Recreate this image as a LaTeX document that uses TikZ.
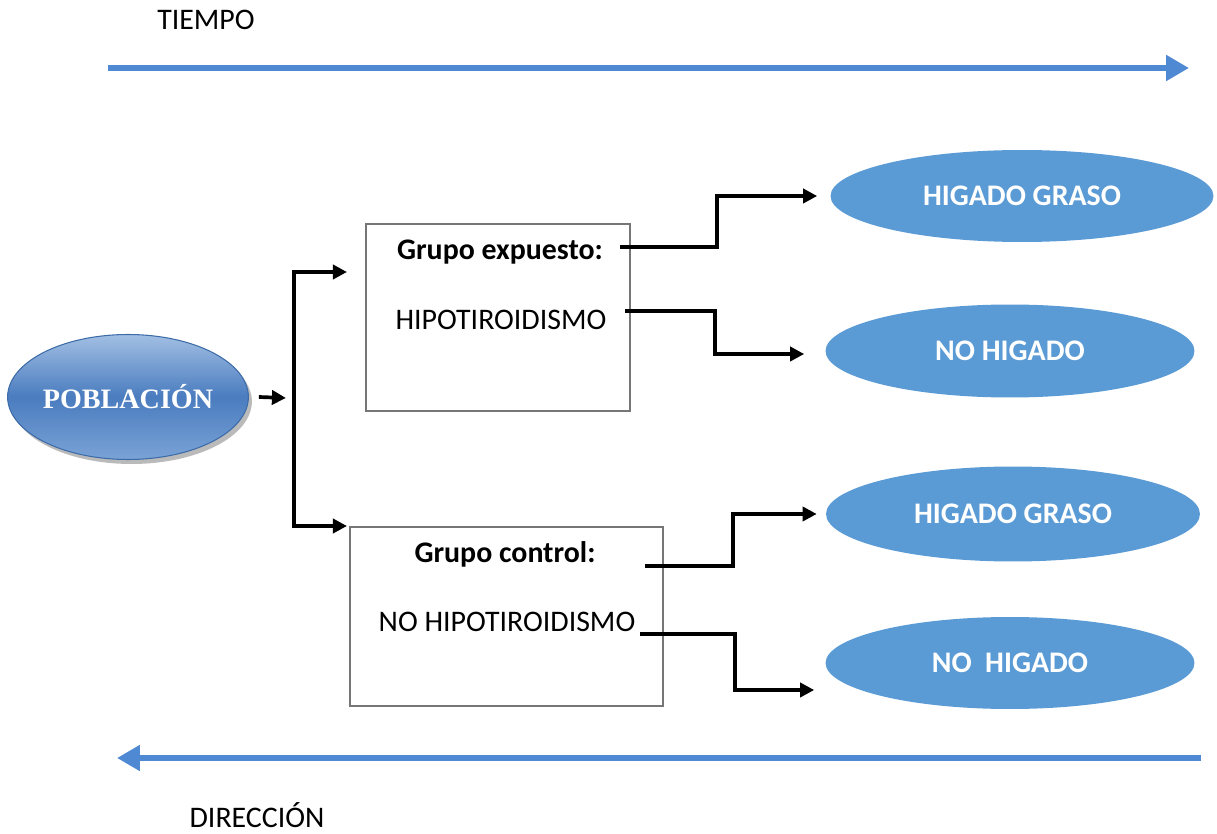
\documentclass[tikz,border=0pt]{standalone}
\usepackage{fontspec}
\setmainfont{Carlito}
\newfontfamily\seriffont{Liberation Serif}
\usetikzlibrary{arrows.meta,shapes.geometric,shadows}
\definecolor{ejeazul}{HTML}{5089D3}
\definecolor{elipseazul}{HTML}{5B9BD5}
\definecolor{cajagris}{HTML}{767676}
\definecolor{pobtop}{HTML}{A2BFE3}
\definecolor{pobmid}{HTML}{4A7CBF}
\definecolor{pobbot}{HTML}{7AA3D6}
\definecolor{pobborde}{HTML}{3C6BA8}

\tikzset{
  eje/.style={draw=ejeazul,line width=3.3pt,-{Triangle[length=13pt,width=14pt]}},
  flecha/.style={line width=2.1pt,-{Triangle[length=8pt,width=8pt]}},
  caja/.style={draw=cajagris,line width=1.1pt,inner sep=0pt},
  resultado/.style={ellipse,fill=elipseazul,text=white,inner sep=0pt,
    font=\bfseries\fontsize{17}{20}\selectfont},
  texto/.style={font=\fontsize{17}{20}\selectfont},
  titulo/.style={font=\bfseries\fontsize{17}{20}\selectfont}
}

\begin{document}
\begin{tikzpicture}[line cap=butt,line join=miter,x=0.02cm,y=-0.02cm]
\useasboundingbox (0,0) rectangle (1217,834);

% time axis and direction axis
\node[texto] (tiempo) at (206,20) {TIEMPO};
\coordinate (t0) at (108,68);
\coordinate (t1) at (1189,68);
\draw[eje] (t0) -- (t1);
\coordinate (d0) at (1201,758);
\coordinate (d1) at (117,758);
\draw[eje] (d0) -- (d1);
\node[texto] (direccion) at (257,815) {DIRECCIÓN};

% population
\node[ellipse,inner sep=0pt,minimum width=4.72cm,minimum height=2.5cm,draw=pobborde,line width=0.6pt,
  top color=pobtop,bottom color=pobbot,middle color=pobmid,
  drop shadow={shadow xshift=0.07cm,shadow yshift=-0.09cm,fill=black!60,opacity=0.45},
  text=white,font=\seriffont\bfseries\fontsize{16}{18}\selectfont] (pob) at (128,397) {POBLACIÓN};

% groups
\node[caja,minimum width=5.28cm,minimum height=3.74cm] (expuesto) at (498,317.5) {};
\node[titulo] (gexp) at (500,252) {Grupo expuesto:};
\node[texto] (hipo) at (501,320) {HIPOTIROIDISMO};

\node[caja,minimum width=6.26cm,minimum height=3.58cm] (control) at (506.5,616.5) {};
\node[titulo] (gcon) at (505,554) {Grupo control:};
\node[texto] (nohipo) at (507,622) {NO HIPOTIROIDISMO};

% outcomes
\node[resultado,minimum width=7.66cm,minimum height=1.84cm] (hg1) at (1022,196) {HIGADO GRASO};
\node[resultado,minimum width=7.38cm,minimum height=1.86cm] (nh1) at (1010,351) {NO HIGADO};
\node[resultado,minimum width=7.48cm,minimum height=1.9cm] (hg2) at (1013,514) {HIGADO GRASO};
\node[resultado,minimum width=7.38cm,minimum height=1.84cm] (nh2) at (1010,663) {NO~~HIGADO};

% split of the population
\coordinate (pobfin) at (286,398);
\draw[flecha] ([xshift=0.2cm]pob.east) -- (pobfin);
\coordinate (ramaA) at (294,272);
\coordinate (ramaB) at (294,526);
\draw[line width=2.1pt] ([yshift=1.05pt]ramaA) -- ([yshift=-1.05pt]ramaB);
\draw[flecha] (ramaA) -- (347,272);
\draw[flecha] (ramaB) -- (347,526);

% follow-up of each group
\draw[flecha,shorten >=0.26cm] (620,247) -- (717,247) |- (hg1.west);
\draw[flecha,shorten >=0.42cm] (625,311) -- (715,311) |- ([yshift=-0.06cm]nh1.west);
\draw[flecha,shorten >=0.18cm] (645,566) -- (733,566) |- (hg2.west);
\draw[flecha,shorten >=0.22cm] (640,634) -- (735,634) |- ([yshift=-0.54cm]nh2.west);
\end{tikzpicture}
\end{document}
